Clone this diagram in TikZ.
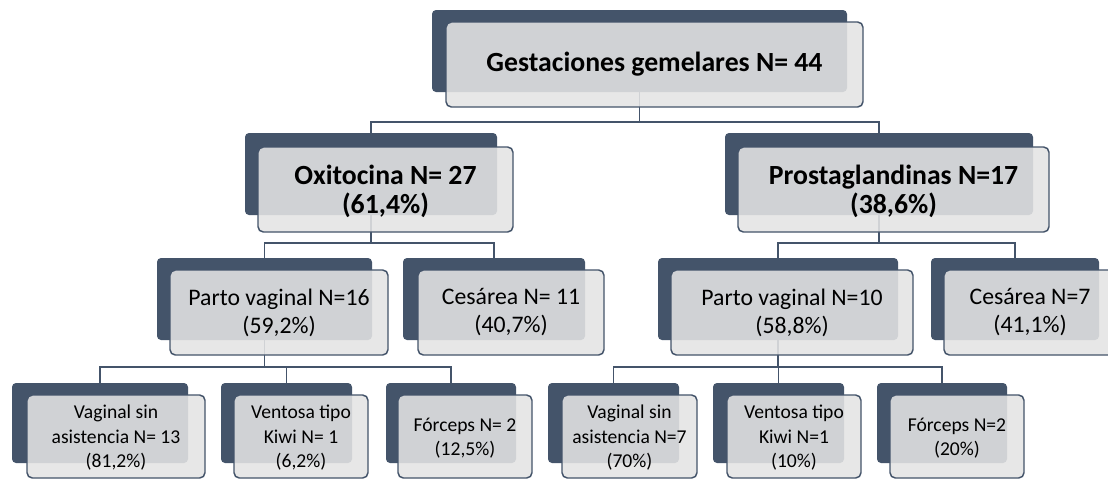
\documentclass[tikz,border=0pt]{standalone}
\usepackage{fontspec}
\setmainfont{Carlito}
\usetikzlibrary{fit}
\definecolor{slate}{HTML}{44546A}
\definecolor{paper}{HTML}{E4E4E4}
\begin{document}
\begin{tikzpicture}[x=0.75pt,y=-0.75pt,
  back/.style={draw=none, fill=slate, rounded corners=3pt, inner sep=0pt},
  front/.style={draw=slate, line width=1.1pt, fill=paper, fill opacity=0.88, text opacity=1, rounded corners=4pt, inner sep=0pt, align=center, text=black},
  card/.style 2 args={minimum width=#1*0.75pt, minimum height=#2*0.75pt},
  lvA/.style={font=\fontsize{20.8}{21.75}\selectfont\bfseries},
  lvB/.style={lvA, text depth=0pt},
  lvC/.style={font=\fontsize{17.8}{21}\selectfont},
  lvD/.style={font=\fontsize{14.7}{18.3}\selectfont, text depth=0pt},
  link/.style={draw=slate, line width=1.4pt}]
\useasboundingbox (0,0) rectangle (1108,480);
\clip (0,0) rectangle (1108,480);
\fill[white] (0,0) rectangle (1108,480);
% back plates
\node[back, fit={(432,10)(847,92)}] (dTop) {};
\node[back, fit={(245,133)(497,215)}] (dOxi) {};
\node[back, fit={(725,133)(1033,215)}] (dPro) {};
\node[back, fit={(157,258)(372,340)}] (dPvA) {};
\node[back, fit={(403,258)(585,340)}] (dCeA) {};
\node[back, fit={(658,258)(898,340)}] (dPvB) {};
\node[back, fit={(931,258)(1099,340)}] (dCeB) {};
\node[back, fit={(12,383)(188,463)}] (dVaA) {};
\node[back, fit={(221,383)(352,463)}] (dKiA) {};
\node[back, fit={(386,383)(516,463)}] (dFoA) {};
\node[back, fit={(548,383)(679,463)}] (dVaB) {};
\node[back, fit={(713,383)(844,463)}] (dKiB) {};
\node[back, fit={(877,383)(1007,463)}] (dFoB) {};
% connectors
\draw[link] (dTop.south) -- ++(0,30) -| (dOxi.north);
\draw[link] (dTop.south) -- ++(0,30) -| (dPro.north);
\draw[link] (dOxi.south) -- ++(0,28) -| (dPvA.north);
\draw[link] (dOxi.south) -- ++(0,28) -| (dCeA.north);
\draw[link] (dPro.south) -- ++(0,28) -| (dPvB.north);
\draw[link] (dPro.south) -- ++(0,28) -| (dCeB.north);
\draw[link] (dPvA.south) -- ++(0,27) -| (dVaA.north);
\draw[link] (dPvA.south) -- ++(0,27) -| (dKiA.north);
\draw[link] (dPvA.south) -- ++(0,27) -| (dFoA.north);
\draw[link] (dPvB.south) -- ++(0,27) -| (dVaB.north);
\draw[link] (dPvB.south) -- ++(0,27) -| (dKiB.north);
\draw[link] (dPvB.south) -- ++(0,27) -| (dFoB.north);
% front cards
\node[front, lvA, card={417}{85}] (fTop) at (654.5,64.5) {Gestaciones gemelares N= 44};
\node[front, lvB, card={255}{85}] (fOxi) at (385.5,189.5) {Oxitocina N= 27\\(61,4\%)};
\node[front, lvB, card={311}{85}] (fPro) at (893.5,189.5) {Prostaglandinas N=17\\(38,6\%)};
\node[front, lvC, card={218}{85}] (fPvA) at (279,312.5) {Parto vaginal N=16\\(59,2\%)};
\node[front, lvC, card={186}{85}] (fCeA) at (511,312.5) {Cesárea N= 11\\(40,7\%)};
\node[front, lvC, card={242}{85}] (fPvB) at (792,312.5) {Parto vaginal N=10\\(58,8\%)};
\node[front, lvC, card={172}{85}] (fCeB) at (1030,312.5) {Cesárea N=7\\(41,1\%)};
\node[front, lvD, card={178}{83}] (fVaA) at (116,436.5) {Vaginal sin\\asistencia N= 13\\(81,2\%)};
\node[front, lvD, card={134}{83}] (fKiA) at (301,436.5) {Ventosa tipo\\Kiwi N= 1\\(6,2\%)};
\node[front, lvD, card={134}{83}] (fFoA) at (465,436.5) {Fórceps N= 2\\(12,5\%)};
\node[front, lvD, card={135}{83}] (fVaB) at (629.5,436.5) {Vaginal sin\\asistencia N=7\\(70\%)};
\node[front, lvD, card={134}{83}] (fKiB) at (794,436.5) {Ventosa tipo\\Kiwi N=1\\(10\%)};
\node[front, lvD, card={134}{83}] (fFoB) at (957,436.5) {Fórceps N=2\\(20\%)};
\end{tikzpicture}
\end{document}
